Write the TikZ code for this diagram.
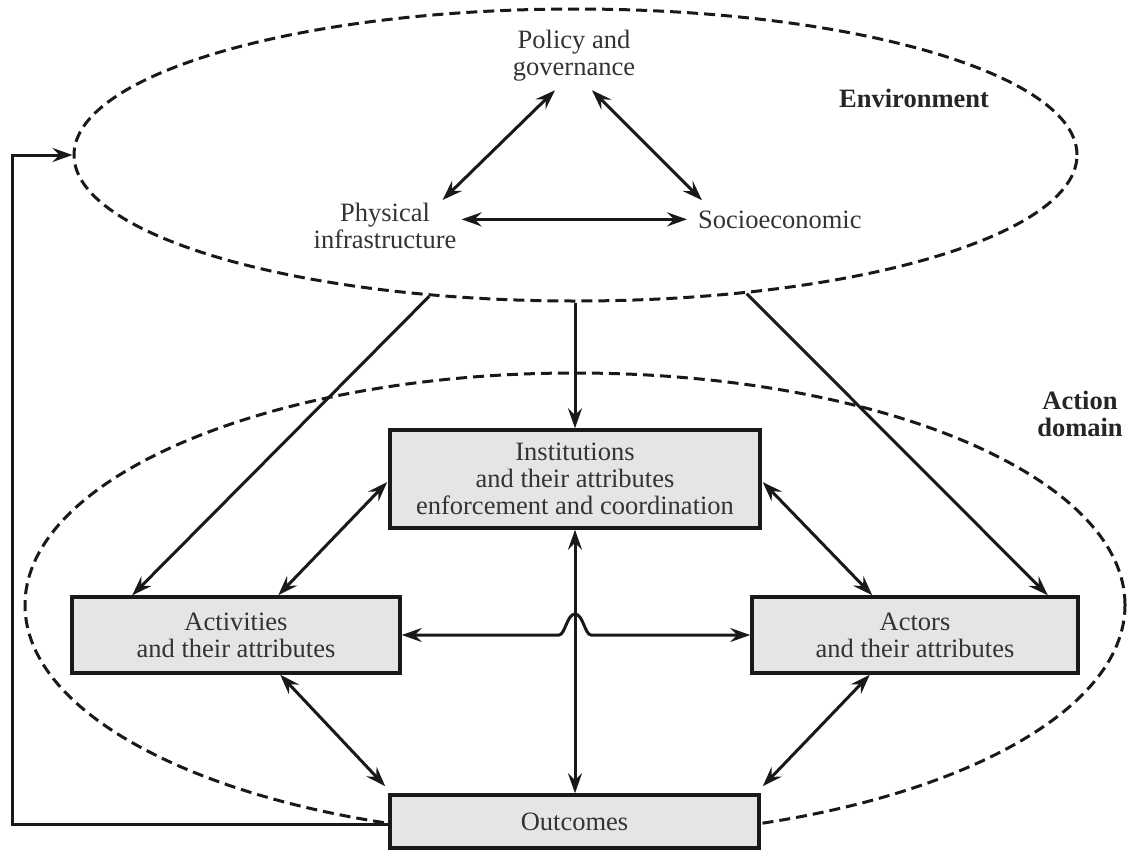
\documentclass[tikz,border=0pt]{standalone}
\usepackage{fontspec}
\setmainfont{Liberation Serif}
\usetikzlibrary{arrows.meta,shapes.geometric,calc}
\begin{document}
\begin{tikzpicture}[x=1pt,y=-1pt,
  tip/.tip={Stealth[length=20pt,width=14pt,inset=7pt]},
  txt/.style={font=\fontsize{26.5pt}{27pt}\selectfont, text=black!80, align=center, inner sep=0pt},
  lbl/.style={font=\fontsize{26.5pt}{27pt}\selectfont\bfseries, text=black!85, align=center, inner sep=0pt},
  box/.style={draw=black!90, line width=3.5pt, fill=black!10, align=center, inner sep=0pt,
              font=\fontsize{26.5pt}{27pt}\selectfont, text=black!80},
  region/.style={ellipse, draw=black!90, line width=3pt, dash pattern=on 11pt off 6pt, inner sep=0pt},
  link/.style={line width=3pt, draw=black!90, tip-tip},
  one/.style={line width=3pt, draw=black!90, -tip}
]
\useasboundingbox (0,0) rectangle (1127,852);
\fill[white] (0,0) rectangle (1127,852);

% regions
\node[region, minimum width=1003pt, minimum height=292pt] (env) at (575.5,155) {};
\node[region, minimum width=1100pt, minimum height=464pt] (dom) at (575,605) {};

% environment texts
\node[txt] (pol) at (574,56) {Policy and\\governance};
\node[txt] (phys) at (385,226) {Physical\\infrastructure};
\node[txt, anchor=base west] (soc) at (698,228) {Socioeconomic};
\node[lbl, anchor=base west] (envl) at (839,107) {Environment};
\node[lbl] (doml) at (1080,414) {Action\\domain};

% boxes
\node[box, minimum width=370pt, minimum height=98pt] (inst) at (575,479) {Institutions\\and their attributes\\enforcement and coordination};
\node[box, minimum width=328pt, minimum height=76pt] (act) at (236,635) {Activities\\and their attributes};
\node[box, minimum width=326pt, minimum height=76pt] (actr) at (915,635) {Actors\\and their attributes};
\node[box, minimum width=369pt, minimum height=53pt] (out) at (574.5,821.5) {Outcomes};

% environment triangle
\draw[link] ([shift={(-19,8.5)}]pol.south) -- ([shift={(-14,-3)}]phys.north east);
\draw[link] ([shift={(18,8.5)}]pol.south) -- ([shift={(4,-10)}]soc.north west);
\draw[link] ([xshift=5pt]phys.east |- soc.west) -- ([xshift=-11pt]soc.west);

% environment to action domain
\draw[one] (env.224.3) -- ([xshift=62pt]act.north west);
\draw[one] (env.321.7) -- ([xshift=-32pt]actr.north east);
\draw[one] (inst.north |- env.south) -- (inst.north);

% inside action domain
\draw[link] ([shift={(-1,3)}]inst.west) -- ([xshift=208pt]act.north west);
\draw[link] ([shift={(1,3)}]inst.east) -- ([xshift=122pt]actr.north west);
\draw[link] (inst.south) -- (inst.south |- out.north);
\draw[link] ([xshift=210pt]act.south west) -- ([shift={(-3,-7)}]out.north west);
\draw[link] ([xshift=-210pt]actr.south east) -- ([shift={(2,-7)}]out.north east);

\coordinate (hop) at (inst.south |- act.east);
\draw[link] (act.east) -- ([xshift=-16pt]hop)
  .. controls ([xshift=-10pt]hop) and ([shift={(-8,-21)}]hop) .. ([yshift=21pt]hop)
  .. controls ([shift={(8,-21)}]hop) and ([xshift=10pt]hop) .. ([xshift=16pt]hop)
  -- (actr.west);

% feedback
\coordinate (fbs) at ([yshift=-3pt]out.west);
\coordinate (fbx) at (12.7,0);
\draw[one] (fbs) -- (fbx |- fbs) |- (env.west);
\end{tikzpicture}
\end{document}
